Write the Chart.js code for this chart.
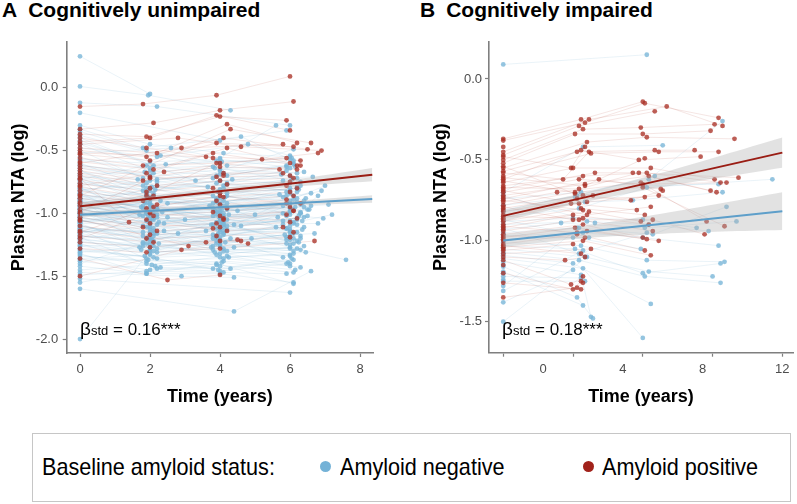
<!DOCTYPE html>
<html><head><meta charset="utf-8">
<script src="https://cdn.jsdelivr.net/npm/chart.js@4.4.1/dist/chart.umd.min.js"></script>
<style>
html,body{margin:0;padding:0;background:#fff}
body{width:797px;height:504px;position:relative;overflow:hidden;font-family:"Liberation Sans",Arial,sans-serif;color:#000}
canvas{position:absolute;top:0}
.ttl{position:absolute;top:-1px;font-weight:bold;font-size:21px;line-height:21px;white-space:nowrap}
.beta{position:absolute;top:319.6px;font-size:17px;line-height:17px;white-space:nowrap}
.beta b{font-weight:normal;font-size:19px}
.beta span{font-size:13px}
.lg{position:absolute;left:32px;top:433px;width:757px;height:67px;border:1.5px solid #c6c6c6}
.lt{position:absolute;top:454.7px;font-size:24px;line-height:24px;white-space:nowrap;transform:scaleX(0.9);transform-origin:left center}
.dot{position:absolute;width:11px;height:11px;border-radius:50%}
</style></head><body>
<div class="ttl" style="left:2px">A<span style="margin-left:11px">Cognitively unimpaired</span></div>
<div class="ttl" style="left:420px">B<span style="margin-left:11px">Cognitively impaired</span></div>
<canvas id="ca" width="400" height="420" style="left:0"></canvas>
<canvas id="cb" width="397" height="420" style="left:400px"></canvas>
<div class="beta" style="left:80px"><b>β</b><span>std</span> = 0.16***</div>
<div class="beta" style="left:502px"><b>β</b><span>std</span> = 0.18***</div>
<div class="lg"></div>
<div class="lt" style="left:42px">Baseline amyloid status:</div>
<div class="dot" style="left:319.5px;top:461px;background:#74b2d7"></div>
<div class="lt" style="left:340px">Amyloid negative</div>
<div class="dot" style="left:582.5px;top:461px;background:#a1221b"></div>
<div class="lt" style="left:602px">Amyloid positive</div>
<script>
// ---------- DATA ----------
const xTicksA = [0, 2, 4, 6, 8];
const yTicksA = [-2.0, -1.5, -1.0, -0.5, 0.0];
const xTickMarksB = [-2, 1.5, 5, 8.5, 12];
const xTickLabelsB = [0, 4, 8, 12];
const yTicksB = [-1.5, -1.0, -0.5, 0.0];

// each subject: [time, value, time, value, ...]
const cuNegative = [
[0,-0.30,2.0,-0.45,4.1,-0.52,6.0,-0.55],[0,-0.35,1.9,-0.50,4.0,-0.60],[0,-0.40,2.1,-0.62,3.9,-0.58,6.1,-0.60],
[0,-0.45,2.0,-0.66,4.2,-0.70,5.9,-0.62],[0,-0.50,1.8,-0.72,4.0,-0.65,6.2,-0.68],[0,-0.55,2.2,-0.75,3.8,-0.72,6.0,-0.70],
[0,-0.60,1.9,-0.80,4.1,-0.78,5.8,-0.74],[0,-0.63,2.0,-0.70,4.0,-0.82,6.3,-0.78],[0,-0.66,2.1,-0.84,3.9,-0.88,6.0,-0.80],
[0,-0.70,2.0,-0.88,4.0,-0.84,6.1,-0.86],[0,-0.72,1.8,-0.90,4.2,-0.92,5.9,-0.83],[0,-0.75,2.2,-0.78,3.8,-0.86,6.0,-0.90],
[0,-0.78,1.9,-0.92,4.1,-0.90,6.2,-0.88],[0,-0.80,2.0,-0.95,4.0,-0.96,6.0,-0.92],[0,-0.82,2.1,-0.86,3.9,-0.98,6.4,-0.95],
[0,-0.84,2.0,-0.98,4.1,-1.00,5.8,-0.94],[0,-0.86,1.9,-1.00,4.0,-0.93,6.1,-0.97],[0,-0.88,2.2,-0.96,3.8,-1.02,6.0,-0.99],
[0,-0.90,1.8,-1.02,4.2,-0.97,6.3,-1.00],[0,-0.92,2.0,-0.93,4.0,-1.04,5.9,-1.02],[0,-0.93,2.1,-1.05,3.9,-1.01,6.0,-0.96],
[0,-0.95,1.9,-0.99,4.1,-1.06,6.2,-1.04],[0,-0.96,2.0,-1.08,4.0,-1.03,6.0,-1.01],[0,-0.98,2.2,-1.01,3.8,-1.09,5.8,-1.06],
[0,-1.00,1.8,-1.10,4.2,-1.05,6.1,-1.08],[0,-1.01,2.0,-1.04,4.0,-1.12,6.4,-1.03],[0,-1.03,2.1,-1.12,3.9,-1.07,6.0,-1.10],
[0,-1.04,1.9,-1.06,4.1,-1.14,5.9,-1.12],[0,-1.06,2.0,-1.15,4.0,-1.10,6.2,-1.05],[0,-1.08,2.2,-1.09,3.8,-1.17,6.0,-1.14],
[0,-1.10,1.8,-1.18,4.2,-1.13,6.1,-1.16],[0,-1.12,2.0,-1.20,4.0,-1.19,5.8,-1.09],[0,-1.14,2.1,-1.14,3.9,-1.22,6.3,-1.18],
[0,-1.16,1.9,-1.24,4.1,-1.16,6.0,-1.21],[0,-1.18,2.0,-1.22,4.0,-1.25,6.2,-1.15],[0,-1.20,2.2,-1.28,3.8,-1.20,5.9,-1.24],
[0,-1.23,1.8,-1.26,4.2,-1.30,6.0,-1.27],[0,-1.26,2.0,-1.32,4.0,-1.24,6.1,-1.30],[0,-1.30,2.1,-1.35,3.9,-1.33,6.4,-1.26],
[0,-1.34,1.9,-1.38,4.1,-1.36,6.0,-1.40],[0,-1.38,2.0,-1.45,4.0,-1.42],[0,-1.42,1.9,-1.48,4.0,-1.48,6.1,-1.55],
[0,-1.47,2.9,-1.50,4.4,-1.51],[0,-1.52,6.0,-1.63],[0,-1.60,4.4,-1.78,6.6,-1.46],[0,-2.00,2.0,-1.30],
[0,0.25,2.0,-0.05],[0,0.01,1.95,-0.06,4.3,-0.18],[0,-0.12,2.2,-0.15,6.0,-0.30],[0,-0.20,4.0,-0.42,5.9,-0.34],
[0,-0.85,2.0,-0.92,4.0,-0.88,6.0,-0.84],[0,-0.87,1.9,-0.84,4.1,-0.94,6.1,-0.89],[0,-0.89,2.1,-1.00,3.9,-0.91,5.9,-0.86],
[0,-0.91,2.0,-0.87,4.0,-0.99,6.2,-0.91],[0,-0.94,1.8,-0.96,4.2,-0.86,6.0,-0.98],[0,-0.97,2.2,-1.03,3.8,-0.96,6.3,-0.93],
[0,-0.99,2.0,-1.13,4.0,-1.08,5.8,-1.00],[0,-1.02,1.9,-0.97,4.1,-1.02,6.1,-1.07],[0,-1.05,2.1,-1.18,3.9,-1.12,6.0,-1.13],
[0,-1.07,2.0,-1.02,4.0,-1.15,6.4,-1.11],[0,-1.09,1.8,-1.23,4.2,-1.10,5.9,-1.19],[0,-1.11,2.2,-1.16,3.8,-1.26,6.2,-1.22],
[0,-1.13,2.0,-1.27,4.0,-1.21,6.0,-1.25],[0,-1.15,1.9,-1.11,4.1,-1.28,6.1,-1.32],[0,-1.17,2.1,-1.30,3.9,-1.18,5.8,-1.35],
[0,-1.21,2.0,-1.25,4.0,-1.32,6.3,-1.29],[0,-1.24,1.9,-1.40,4.1,-1.38,6.0,-1.42],[0,-1.28,2.2,-1.36,3.8,-1.44,6.1,-1.37],
[0,-0.76,2.0,-0.82,4.0,-0.74,6.0,-0.76],[0,-0.73,1.9,-0.76,4.1,-0.80,6.2,-0.72],[0,-0.68,2.1,-0.68,3.9,-0.76,5.9,-0.66],
[0,-0.64,2.0,-0.74,4.0,-0.69,6.0,-0.64],[0,-0.58,2.0,-0.64,4.2,-0.62,6.1,-0.58],[0,-0.52,2.6,-0.48,4.0,-0.56,5.6,-0.30],
[0,-0.48,2.2,-0.55,4.8,-0.45,6.0,-0.54],[0,-0.42,3.3,-0.74,4.0,-0.66,6.1,-0.49],[0,-0.94,2.5,-0.92,4.5,-0.98,6.9,-0.82],
[0,-1.00,3.0,-1.05,5.0,-1.01,7.0,-0.78],[0,-1.06,2.4,-1.08,4.6,-1.10,6.6,-0.94],[0,-1.12,2.8,-1.16,4.9,-1.20,7.6,-1.37],
[0,-0.96,2.0,-1.11,4.0,-1.00,6.0,-1.06,6.8,-0.86],[0,-0.81,1.8,-0.78,4.2,-0.84,6.2,-0.80],[0,-0.79,2.0,-1.06,4.0,-1.04,5.9,-1.12],
[0,-0.90,1.9,-1.20,4.1,-1.17,6.0,-1.18],[0,-0.98,2.1,-1.26,3.9,-1.24,6.1,-1.20],[0,-1.03,2.0,-0.90,4.0,-0.94,6.3,-0.99],
[0,-1.19,2.2,-1.44,4.0,-1.46,5.9,-1.40],[0,-1.32,1.9,-1.48,3.9,-1.40,6.1,-1.56],[0,-1.36,2.0,-1.33,4.1,-1.30,6.0,-1.34],
[0,-1.40,1.8,-1.24,4.0,-1.26,6.2,-1.28],
[0,-0.88,1.75,-0.95,3.85,-0.98,6.35,-0.92],[0,-0.93,2.25,-1.07,4.25,-1.01,6.55,-0.97],[0,-1.01,1.85,-0.91,3.75,-1.09,5.65,-1.03],
[0,-1.07,2.35,-0.99,4.05,-1.04,6.45,-0.88],[0,-0.83,1.95,-0.89,3.95,-0.83,6.25,-0.81],[0,-0.77,2.15,-0.81,4.15,-0.87,6.05,-0.73],
[0,-0.71,1.65,-0.73,3.65,-0.79,5.75,-0.69],[0,-0.69,2.05,-0.79,4.35,-0.73,6.65,-0.71],[0,-0.62,1.85,-0.67,3.85,-0.64,6.15,-0.63],
[0,-0.57,2.45,-0.61,4.05,-0.59,6.05,-0.56],[0,-1.14,1.95,-1.19,3.95,-1.16,6.35,-1.13],[0,-1.18,2.05,-1.21,4.15,-1.23,5.85,-1.17],
[0,-1.22,1.75,-1.29,3.75,-1.27,6.25,-1.23],[0,-1.26,2.25,-1.24,4.25,-1.35,6.45,-1.31],[0,-1.29,1.85,-1.34,3.85,-1.31,5.95,-1.39],
[0,-1.33,2.15,-1.42,4.05,-1.39,6.15,-1.45],[0,-1.37,1.95,-1.37,3.95,-1.45,6.05,-1.36],[0,-1.45,2.05,-1.41,4.2,-1.34,6.3,-1.43],
[0,-1.49,1.9,-1.46,4.1,-1.47,5.9,-1.48],[0,-1.55,2.3,-1.43,4.3,-1.44],[0,-0.97,2.05,-0.94,4.05,-0.97,6.15,-0.95,7.1,-0.93],
[0,-0.95,1.95,-1.02,3.9,-0.89,6.25,-1.02,6.95,-1.04],[0,-1.02,2.1,-0.96,4.1,-1.08,6.35,-1.06,7.2,-1.01],
[0,-0.90,1.8,-0.94,4.0,-1.06,6.5,-0.97],[0,-0.86,2.2,-0.97,3.8,-0.92,5.7,-0.85],[0,-0.99,1.9,-0.85,4.2,-0.95,6.0,-1.15],
[0,-1.04,2.0,-1.09,3.9,-1.19,6.2,-1.09],[0,-1.10,2.1,-1.22,4.0,-1.06,6.1,-1.24],[0,-0.80,1.7,-1.01,4.1,-1.11,6.4,-0.90],
[0,-0.74,2.3,-0.90,3.7,-0.94,6.6,-0.84],[0,-0.66,1.9,-0.87,4.0,-0.81,5.8,-0.87],[0,-0.61,2.0,-0.71,4.2,-0.77,6.2,-0.83],
[0,-1.20,1.8,-1.15,3.8,-1.29,6.0,-1.28],[0,-1.25,2.2,-1.31,4.4,-1.27,6.3,-1.20],[0,-1.31,1.7,-1.27,4.3,-1.20,6.7,-1.16],
[0,-0.84,2.4,-1.14,3.6,-1.14,5.6,-1.11],[0,-0.91,2.5,-1.03,4.4,-1.09,6.8,-1.08],[0,-1.08,2.0,-1.29,4.0,-1.35,6.0,-1.33],
[0,-1.13,1.9,-1.36,3.9,-1.41,6.1,-1.47],[0,-0.99,2.1,-1.16,4.1,-1.09,5.9,-1.21],[0,-0.94,2.0,-0.80,4.0,-0.92,6.2,-0.79],
[0,-0.89,1.8,-0.82,4.2,-0.76,6.0,-0.82],[0,-0.82,2.2,-0.73,3.9,-0.70,6.4,-0.67],[0,-0.73,1.9,-0.62,4.1,-0.68,6.1,-0.61],
[0,-0.44,2.0,-0.59,4.0,-0.57,5.9,-0.63],[0,-0.38,2.3,-0.54,3.8,-0.63,6.3,-0.75],[0,-0.33,1.8,-0.48,4.6,-0.39,6.0,-0.57],
[0,-1.16,2.1,-1.04,4.0,-1.13,6.5,-1.02],[0,-1.06,1.9,-1.00,3.9,-0.99,6.0,-0.94],[0,-1.00,2.0,-1.07,4.1,-1.03,6.3,-1.00]
];
const cuPositive = [
[0,-0.15,1.8,-0.13,3.9,-0.06,6.0,0.09],[0,-0.33,2.1,-0.28,4.0,-0.18,6.1,-0.11],[0,-0.37,1.9,-0.39,4.0,-0.23,5.9,-0.26],
[0,-0.43,2.0,-0.40,3.9,-0.22,6.0,-0.34],[0,-0.48,2.2,-0.52,4.2,-0.29,6.2,-0.44],[0,-0.50,1.9,-0.55,4.1,-0.40,6.5,-0.49],
[0,-0.53,2.0,-0.58,3.9,-0.44,6.1,-0.47],[0,-0.56,1.8,-0.62,4.0,-0.60,5.9,-0.56],[0,-0.59,2.1,-0.65,4.2,-0.48,6.0,-0.60],
[0,-0.62,1.9,-0.68,3.8,-0.52,6.3,-0.62],[0,-0.64,2.0,-0.71,4.0,-0.63,6.2,-0.65],[0,-0.66,1.8,-0.74,4.1,-0.68,5.8,-0.68],
[0,-0.68,2.2,-0.78,3.9,-0.71,6.0,-0.70],[0,-0.70,2.0,-0.80,4.0,-0.74,6.1,-0.72],[0,-0.73,1.9,-0.83,4.2,-0.77,6.0,-0.75],
[0,-0.76,2.1,-0.86,3.8,-0.80,5.9,-0.78],[0,-0.79,2.0,-0.88,4.0,-0.84,6.2,-0.80],[0,-0.82,1.8,-0.90,4.1,-0.87,6.0,-0.83],
[0,-0.85,2.2,-0.93,3.9,-0.90,6.1,-0.86],[0,-0.88,1.9,-0.96,4.0,-0.93,5.9,-0.89],[0,-0.91,2.0,-0.99,4.2,-0.96,6.3,-0.92],
[0,-0.94,2.1,-1.02,3.8,-0.99,6.0,-0.95],[0,-0.97,1.9,-1.05,4.0,-1.02,6.1,-0.98],[0,-1.00,2.0,-1.08,4.1,-1.05,5.9,-1.01],
[0,-1.03,1.8,-1.11,3.9,-1.08,6.2,-1.04],[0,-1.06,2.2,-1.14,4.0,-1.11,6.0,-1.07],[0,-1.10,2.0,-1.17,4.2,-1.14,5.8,-1.11],
[0,-1.14,1.9,-1.20,3.9,-1.18,6.1,-1.15],[0,-1.18,2.1,-1.23,4.0,-1.22,6.0,-1.19],[0,-1.23,2.0,-1.27,3.6,-1.23,4.6,-1.22],
[0,-1.28,1.9,-1.31,4.0,-1.28,6.7,-1.22],[0,-1.36,2.5,-1.53,4.0,-1.49],[0,-1.50,2.9,-1.29,4.8,-1.24],
[0,-1.05,3.1,-1.26,4.5,-1.21],[0,-0.72,1.4,-1.07,3.8,-1.12],[0,-0.60,2.9,-0.48,5.8,-0.45],
[0,-0.52,3.6,-0.55,6.3,-0.58],[0,-0.45,2.8,-0.40,4.6,-0.47,6.9,-0.50],[0,-0.86,4.3,-0.33,6.6,-0.44],
[0,-0.78,2.4,-0.67,5.2,-0.57,6.8,-0.52],[0,-0.92,1.9,-0.86,3.9,-0.60,5.7,-0.65],[0,-0.99,2.0,-0.72,4.1,-0.70,6.2,-0.62],
[0,-0.40,1.9,-0.48,3.8,-0.56],[0,-1.15,2.1,-0.95,4.0,-0.86,5.9,-0.92],[0,-1.20,2.0,-1.00,4.1,-1.04,6.1,-0.98]
];
const ciNegative = [
[-2,0.09,5.2,0.15],[-2,-0.70,2.0,-0.42,6.0,-0.41],[-2,-0.74,1.9,-0.70,5.3,-0.62,9.0,-0.26],
[-2,-0.78,1.6,-0.73,5.0,-0.66,8.8,-0.65],[-2,-0.82,2.1,-0.76,4.5,-0.75,9.0,-0.70],[-2,-0.85,1.8,-0.80,5.2,-0.67,11.5,-0.62],
[-2,-0.88,1.5,-0.86,5.0,-0.87,7.7,-0.92],[-2,-0.90,2.2,-0.88,5.3,-0.90,8.3,-0.94],[-2,-0.93,0.9,-0.89,5.1,-0.92,9.7,-0.88],
[-2,-0.95,1.7,-0.92,5.5,-0.96,9.2,-0.79],[-2,-0.97,2.0,-0.95,5.0,-0.98,8.8,-1.03],[-2,-0.99,1.5,-0.98,4.9,-1.05],
[-2,-1.01,1.9,-1.03,5.2,-1.12,9.1,-1.13],[-2,-1.03,1.6,-1.05,5.0,-1.20,8.9,-1.14],[-2,-1.05,2.1,-1.10,5.3,-1.19,8.5,-1.22],
[-2,-1.07,1.8,-1.12,5.1,-1.22,8.9,-1.26],[-2,-1.09,1.5,-1.14,5.4,-1.39],[-2,-1.11,2.0,-1.17,5.0,-1.60],
[-2,-1.13,1.9,-1.21,2.4,-1.47],[-2,-1.16,1.7,-1.35,2.5,-1.48],[-2,-1.19,2.0,-1.40],[-2,-1.22,1.9,-1.23],
[-2,-1.25,2.1,-1.25],[-2,-1.28,1.8,-0.92],[-2,-1.31,2.0,-1.06],[-2,-1.38,1.5,-1.18],[-2,-1.50,2.2,-1.10],
[-2,-0.72,2.6,-0.89],[-2,-0.81,1.7,-0.72,5.6,-0.60],[-2,-0.87,2.3,-0.98],[-2,-0.92,1.8,-1.08,5.2,-0.95],
[-2,-0.96],[-2,-1.00],[-2,-1.04],[-2,-1.08],[-2,-1.15],[-2,-1.20],[-2,-1.24]
];
const ciPositive = [
[-2,-0.37,1.9,-0.25,5.0,-0.14],[-2,-0.38,2.1,-0.27,5.1,-0.15,8.8,-0.24],[-2,-0.45,2.3,-0.25,6.2,-0.17,9.0,-0.29],
[-2,-0.47,1.8,-0.29,5.6,-0.20],[-2,-0.50,2.0,-0.31,4.9,-0.30,8.6,-0.28],[-2,-0.52,1.6,-0.34,5.0,-0.34,8.4,-0.32],
[-2,-0.55,2.2,-0.39,5.2,-0.36,9.6,-0.37],[-2,-0.57,1.7,-0.45,5.6,-0.44,7.6,-0.44],[-2,-0.60,2.4,-0.46,5.8,-0.45,8.8,-0.45],
[-2,-0.62,1.9,-0.44,4.8,-0.50,7.9,-0.48],[-2,-0.64,1.5,-0.55,5.4,-0.55,8.6,-0.62],[-2,-0.66,2.0,-0.60,5.2,-0.58,8.9,-0.64],
[-2,-0.68,2.6,-0.58,4.5,-0.58,8.7,-0.70],[-2,-0.70,1.8,-0.62,5.0,-0.65,9.2,-0.64],[-2,-0.72,2.1,-0.65,5.3,-0.60,8.4,-0.69],
[-2,-0.74,2.8,-0.62,5.9,-0.68],[-2,-0.76,0.7,-0.70,4.9,-0.64,8.2,-0.88],[-2,-0.78,1.6,-0.70,5.0,-0.67,9.1,-0.91],
[-2,-0.80,2.0,-0.72,4.4,-0.75,6.0,-0.69],[-2,-0.82,1.7,-0.74,5.1,-0.73],[-2,-0.84,2.2,-0.76,5.8,-0.72],
[-2,-0.86,1.4,-0.77,4.7,-0.81],[-2,-0.88,1.9,-0.80,5.1,-0.84],[-2,-0.90,2.3,-0.82,4.9,-0.88],
[-2,-0.92,1.5,-0.84,5.3,-0.90],[-2,-0.94,1.8,-0.87,5.5,-0.94],[-2,-0.96,2.0,-0.90,5.0,-0.98],
[-2,-0.98,1.6,-0.92,5.2,-0.99],[-2,-1.00,2.2,-0.94,5.8,-1.00],[-2,-1.02,1.7,-0.96,5.1,-1.06],
[-2,-1.04,2.0,-1.00,5.4,-1.09],[-2,-1.06,1.5,-1.02],[-2,-1.08,2.4,-1.05],[-2,-1.10,1.1,-1.12,2.1,-1.10],
[-2,-1.12,1.4,-1.27,2.0,-1.22],[-2,-1.20,1.5,-1.30,1.9,-1.25],[-2,-1.35,1.7,-1.29,2.0,-1.26],[-2,-1.26,1.9,-1.30],
[-2,-0.58,1.0,-0.62,2.3,-0.45],[-2,-0.48,1.4,-0.55,2.1,-0.42],[-2,-0.61,2.1,-0.66,5.1,-0.49],
[-2,-0.67,1.8,-0.68,4.8,-0.58,9.8,-0.61],[-2,-0.73,2.2,-0.84,5.4,-0.79],[-2,-0.79,1.5,-0.87,5.5,-0.87,8.1,-0.96],
[-2,-0.85,2.0,-0.86],[-2,-0.91,1.7,-0.95],[-2,-0.97,2.1,-0.98],[-2,-1.03,1.9,-1.08],[-2,-0.54,1.6,-0.71],
[-2,-0.63,2.5,-0.72],[-2,-0.69,1.8,-0.77],[-2,-0.75,2.0,-0.81],[-2,-0.81],[-2,-0.87],[-2,-0.93],[-2,-0.99],
[-2,-1.05],[-2,-1.15],[-2,-0.42]
];

// fitted lines [x, y] and confidence bands [x, lower, upper]
const cuNegFit = [[0,-1.010],[8.35,-0.886]];
const cuPosFit = [[0,-0.944],[8.35,-0.692]];
const cuNegBand = [[0,-1.032,-0.988],[2,-0.997,-0.963],[4,-0.967,-0.935],[6,-0.940,-0.902],[8.35,-0.916,-0.856]];
const cuPosBand = [[0,-0.975,-0.913],[2,-0.905,-0.863],[4,-0.843,-0.803],[6,-0.790,-0.736],[8.35,-0.745,-0.639]];
const ciNegFit = [[-2,-0.998],[12,-0.817]];
const ciPosFit = [[-2,-0.846],[12,-0.455]];
const ciNegBand = [[-2,-1.038,-0.958],[2,-0.984,-0.908],[6,-0.956,-0.832],[9,-0.943,-0.767],[12,-0.934,-0.700]];
const ciPosBand = [[-2,-0.881,-0.811],[2,-0.764,-0.704],[6,-0.668,-0.578],[9,-0.607,-0.471],[12,-0.548,-0.362]];

// ---------- CHART ----------
Chart.defaults.font.family = '"Liberation Sans", Arial, sans-serif';
const GRAY = '#7f7f7f';
const toPts = s => { const o = []; for (let i = 0; i < s.length; i += 2) o.push({x: s[i], y: s[i + 1]}); return o; };

function buildDatasets(neg, pos, negFit, posFit, negBand, posBand) {
  const ds = [];
  neg.forEach(s => ds.push({data: toPts(s), showLine: true, borderColor: 'rgba(115,175,212,0.26)', borderWidth: 0.6, pointRadius: 0, order: 6}));
  pos.forEach(s => ds.push({data: toPts(s), showLine: true, borderColor: 'rgba(180,60,50,0.22)', borderWidth: 0.6, pointRadius: 0, order: 5}));
  ds.push({data: neg.flatMap(toPts), showLine: false, pointRadius: 2.4, pointBackgroundColor: 'rgba(122,182,216,0.8)', pointBorderWidth: 0, borderColor: 'transparent', order: 4});
  ds.push({data: pos.flatMap(toPts), showLine: false, pointRadius: 2.4, pointBackgroundColor: 'rgba(170,50,40,0.78)', pointBorderWidth: 0, borderColor: 'transparent', order: 3});
  [negBand, posBand].forEach(b => {
    ds.push({data: b.map(r => ({x: r[0], y: r[1]})), showLine: true, borderColor: 'transparent', borderWidth: 0, pointRadius: 0, fill: false, tension: 0.3, order: 2});
    ds.push({data: b.map(r => ({x: r[0], y: r[2]})), showLine: true, borderColor: 'transparent', borderWidth: 0, pointRadius: 0, fill: '-1', backgroundColor: 'rgba(175,175,175,0.36)', tension: 0.3, order: 2});
  });
  ds.push({data: negFit.map(r => ({x: r[0], y: r[1]})), showLine: true, borderColor: '#5e9fca', borderWidth: 2, pointRadius: 0, order: 1});
  ds.push({data: posFit.map(r => ({x: r[0], y: r[1]})), showLine: true, borderColor: '#9a1d14', borderWidth: 2, pointRadius: 0, order: 0});
  return ds;
}

function axisCommon() {
  return {
    type: 'linear',
    grid: {drawOnChartArea: false, drawTicks: true, tickLength: 4, tickColor: GRAY, tickWidth: 1.2},
    border: {display: true, color: GRAY, width: 1.6},
  };
}

function makeChart(id, cfg) {
  return new Chart(document.getElementById(id), {
    type: 'scatter',
    data: {datasets: buildDatasets(cfg.neg, cfg.pos, cfg.negFit, cfg.posFit, cfg.negBand, cfg.posBand)},
    options: {
      responsive: false, animation: false, events: [],
      layout: {padding: cfg.padding},
      plugins: {legend: {display: false}, tooltip: {enabled: false}, colors: {enabled: false}},
      scales: {
        x: Object.assign(axisCommon(), {
          min: cfg.xMin, max: cfg.xMax,
          afterBuildTicks: s => { s.ticks = cfg.xTicks.map(v => ({value: v})); },
          afterFit: s => { s.height = 60; },
          grid: {drawOnChartArea: false, drawTicks: true, tickLength: 4, tickWidth: 1.2,
                 tickColor: c => (cfg.xMarks.includes(c.tick && c.tick.value) ? GRAY : 'rgba(0,0,0,0)')},
          ticks: {color: '#4d4d4d', font: {size: 13}, padding: 5, maxRotation: 0, autoSkip: false,
                  callback: v => (cfg.xLabels.includes(v) ? String(v) : '')},
          title: {display: true, text: 'Time (years)', color: '#000', font: {size: 18, weight: 'bold'}, padding: {top: 0, bottom: 5.2}}
        }),
        y: Object.assign(axisCommon(), {
          min: cfg.yMin, max: cfg.yMax,
          afterBuildTicks: s => { s.ticks = cfg.yTicks.map(v => ({value: v})); },
          afterFit: s => { s.width = 66.7; },
          ticks: {color: '#4d4d4d', font: {size: 13}, padding: cfg.yPad, autoSkip: false, callback: v => Number(v).toFixed(1)},
          title: {display: true, text: 'Plasma NTA (log)', color: '#000', font: {size: 18, weight: 'bold'}, padding: {top: 8.2, bottom: 0}}
        })
      }
    }
  });
}

makeChart('ca', {
  neg: cuNegative, pos: cuPositive, negFit: cuNegFit, posFit: cuPosFit, negBand: cuNegBand, posBand: cuPosBand,
  padding: {top: 41.7, right: 27, bottom: 7, left: 0},
  xMin: -0.38, xMax: 8.371, yMin: -2.111, yMax: 0.366,
  xTicks: xTicksA, xMarks: xTicksA, xLabels: xTicksA, yTicks: yTicksA, yPad: 4.5
});
makeChart('cb', {
  neg: ciNegative, pos: ciPositive, negFit: ciNegFit, posFit: ciPosFit, negBand: ciNegBand, posBand: ciPosBand,
  padding: {top: 41.7, right: 3, bottom: 7.3, left: 22.3},
  xMin: -2.715, xMax: 12.535, yMin: -1.6916, yMax: 0.2305,
  xTicks: [-2, 0, 1.5, 4, 5, 8, 8.5, 12], xMarks: xTickMarksB, xLabels: xTickLabelsB, yTicks: yTicksB, yPad: 3
});
</script>
</body></html>
